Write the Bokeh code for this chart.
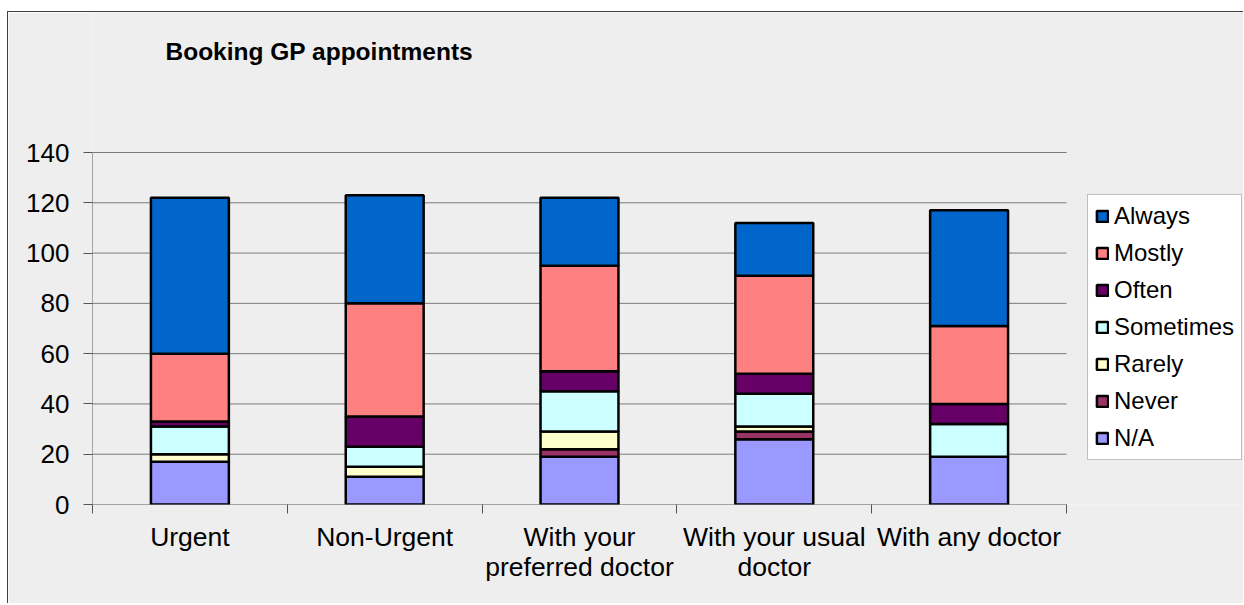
from bokeh.plotting import figure
from bokeh.models import ColumnDataSource, FixedTicker, Legend, LegendItem, Range1d, Label
from bokeh.embed import file_html
from bokeh.resources import INLINE

categories = ["Urgent", "Non-Urgent", "With your\npreferred doctor",
              "With your usual\ndoctor", "With any doctor"]
series = ["N/A", "Never", "Rarely", "Sometimes", "Often", "Mostly", "Always"]
na = [17, 11, 19, 26, 19]
never = [0, 0, 3, 3, 0]
rarely = [3, 4, 7, 2, 0]
sometimes = [11, 8, 16, 13, 13]
often = [2, 12, 8, 8, 8]
mostly = [27, 45, 42, 39, 31]
always = [62, 43, 27, 21, 46]
colors = ["#9999FF", "#993366", "#FFFFCC", "#CCFFFF", "#660066", "#FF8080", "#0066CC"]
y_ticks = [0, 20, 40, 60, 80, 100, 120, 140]
title_text = "Booking GP appointments"

FONT = "Liberation Sans"
BG = "#EEEEEE"

# layout (pixels)
FIG_W, FIG_H = 1236, 592
LEFT, BOTTOM = 84, 100
PLOT_W, PLOT_H = 974, 352         # size of the value area
FRAME_W = FIG_W - LEFT            # frame extends right (legend) and up (title)
FRAME_H = FIG_H - BOTTOM
n = len(categories)
y_max = y_ticks[-1]
x_end = n * FRAME_W / PLOT_W
y_end = y_max * FRAME_H / PLOT_H

xpos = [i + 0.5 for i in range(n)]
data = {"x": xpos}
for name, vals in zip(series, [na, never, rarely, sometimes, often, mostly, always]):
    data[name] = vals
source = ColumnDataSource(data)

p = figure(width=FIG_W, height=FIG_H, output_backend="svg", toolbar_location=None,
           x_range=Range1d(0, x_end), y_range=Range1d(0, y_end),
           min_border_left=LEFT, min_border_right=0, min_border_top=0,
           min_border_bottom=BOTTOM)
p.styles = {"margin-left": "7px", "margin-top": "11px",
            "border-left": "1px solid #404040", "border-top": "1px solid #404040"}
p.background_fill_color = BG
p.border_fill_color = BG
p.outline_line_color = None

# horizontal gridlines over the value area (the one at 0 doubles as the x axis line)
grid_src = ColumnDataSource({"x0": [0] * len(y_ticks), "x1": [n] * len(y_ticks),
                             "y": y_ticks,
                             "c": ["#555555"] + ["#7A7A7A"] * (len(y_ticks) - 1)})
p.segment(x0="x0", x1="x1", y0="y", y1="y", color="c", line_width=1, source=grid_src)
# y axis line over the value range only
p.segment(x0=[0], x1=[0], y0=[0], y1=[y_max], color="#555555", line_width=1)

renderers = p.vbar_stack(series, x="x", width=0.4, source=source,
                         fill_color=colors, line_color="black", line_width=2.5)

# axes
p.xaxis.ticker = FixedTicker(ticks=xpos, minor_ticks=list(range(n + 1)))
p.xaxis.major_label_overrides = {x: c for x, c in zip(xpos, categories)}
p.xaxis.major_tick_line_color = None
p.xaxis.minor_tick_line_color = "#555555"
p.xaxis.minor_tick_in = 0
p.xaxis.minor_tick_out = 9
p.xaxis.major_label_standoff = 8
p.xaxis.major_label_text_font = FONT
p.xaxis.major_label_text_font_size = "26.5px"
p.xaxis.major_label_text_line_height = 1.0
p.xaxis.major_label_text_color = "black"
p.xaxis.axis_line_color = None

p.yaxis.ticker = FixedTicker(ticks=y_ticks, minor_ticks=[])
p.yaxis.major_tick_in = 0
p.yaxis.major_tick_out = 9
p.yaxis.major_tick_line_color = "#555555"
p.yaxis.major_label_standoff = 14
p.yaxis.major_label_text_font = FONT
p.yaxis.major_label_text_font_size = "26px"
p.yaxis.major_label_text_color = "black"
p.yaxis.axis_line_color = None

p.xgrid.grid_line_color = None
p.ygrid.grid_line_color = None

# title
title = Label(x=73, y=PLOT_H + 101, x_units="screen", y_units="screen", text=title_text,
              text_font=FONT, text_font_size="24.5px", text_font_style="bold",
              text_color="black", text_baseline="alphabetic")
p.add_layout(title)

items = [LegendItem(label=s, renderers=[r]) for s, r in zip(series, renderers)]
items.reverse()
legend = Legend(items=items, location=(PLOT_W + 21, 44), orientation="vertical",
                background_fill_color="white", background_fill_alpha=1.0,
                border_line_color="#808080", border_line_width=1,
                glyph_width=14, glyph_height=14, label_standoff=5,
                padding=7, spacing=9, margin=0, label_height=28,
                label_text_font=FONT, label_text_font_size="24px",
                label_text_color="black")
p.add_layout(legend, "center")

open("out.html", "w").write(file_html(p, INLINE))
